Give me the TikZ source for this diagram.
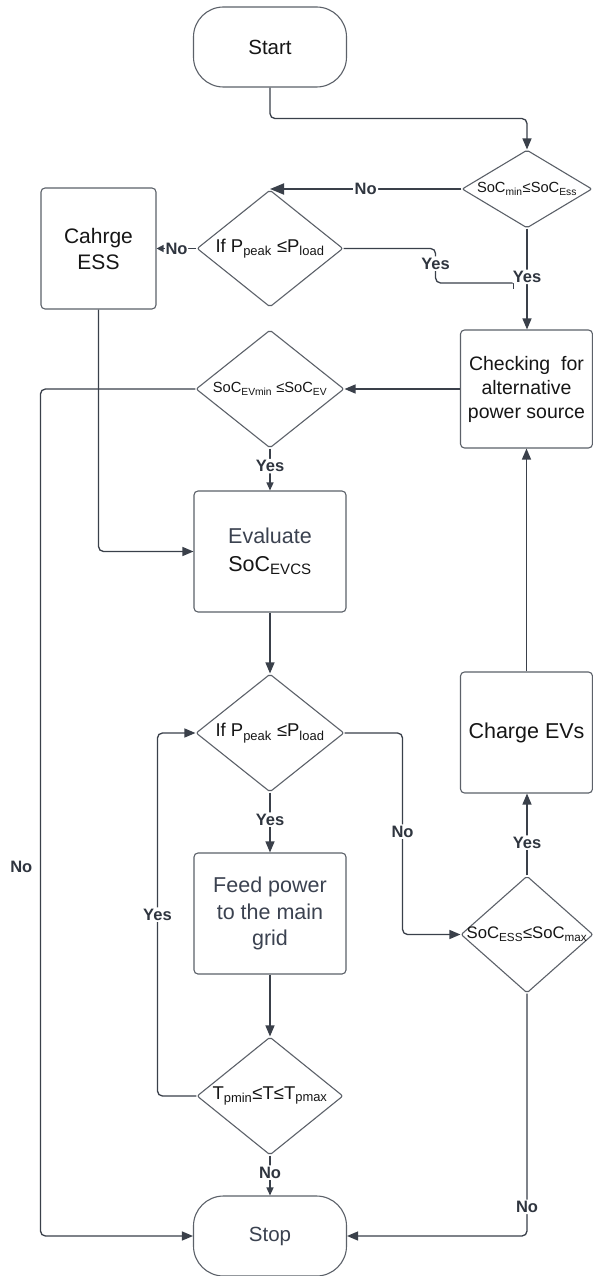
\documentclass[tikz,border=0pt]{standalone}
\usepackage{fontspec}
\setmainfont{Liberation Sans}
\usetikzlibrary{shapes.geometric,arrows.meta}
\definecolor{linec}{HTML}{3A404A}
\definecolor{boxc}{HTML}{5C6169}
\definecolor{txtg}{HTML}{3B4250}
\definecolor{labc}{HTML}{2F353F}
\definecolor{txtk}{HTML}{161616}
\newcommand{\fsz}[2]{\fontsize{#1}{#2}\selectfont}
\begin{document}
\begin{tikzpicture}[x=1pt,y=-1pt,
  box/.style={draw=boxc, line width=1.1pt, rounded corners=4pt, align=center, inner sep=0pt, text=txtk},
  term/.style={box, rounded corners=30pt, minimum width=153pt, minimum height=80pt, font=\fsz{20.5}{23}},
  dec/.style={diamond, draw=boxc, line width=1.1pt, rounded corners=2pt, inner sep=0pt, text=txtk},
  conn/.style={draw=linec, line width=1.3pt, rounded corners=5pt, -{Triangle[length=11pt,width=9pt]}},
  small/.style={-{Triangle[length=8pt,width=7pt]}},
  lbl/.style={fill=white, font=\bfseries\fsz{16.5}{19}, text=labc, inner sep=1.5pt},
]
\useasboundingbox (0,0) rectangle (593,1276);
\fill[white] (0,0) rectangle (593,1276);

% nodes
\node[term] (start) at (270,47) {Start};
\node[dec, minimum width=130pt, minimum height=78pt] (d1) at (527,189)
  {\makebox[0pt]{\fsz{14.7}{17}SoC\textsubscript{min}≤SoC\textsubscript{Ess}}};
\node[dec, minimum width=146pt, minimum height=117pt] (d2) at (270,248.5)
  {\makebox[0pt]{\fsz{18.5}{21}If P\textsubscript{peak} ≤P\textsubscript{load}}};
\node[box, minimum width=115pt, minimum height=121pt, font=\fsz{21}{26}] (ess) at (98.5,248.5) {Cahrge\\ESS};
\node[box, minimum width=132pt, minimum height=118pt, font=\fsz{19.5}{24}] (chk) at (526.5,389) {Checking\ \ for\\alternative\\power source};
\node[dec, minimum width=148pt, minimum height=118pt] (d3) at (270,389)
  {\makebox[0pt]{\fsz{14.7}{17}SoC\textsubscript{EVmin} ≤SoC\textsubscript{EV}}};
\node[box, minimum width=152pt, minimum height=121pt, font=\fsz{21.5}{28}] (eval) at (270,551.5)
  {\textcolor{txtg}{Evaluate}\\SoC\textsubscript{EVCS}};
\node[dec, minimum width=148pt, minimum height=118pt] (d4) at (270,733)
  {\makebox[0pt]{\fsz{18.5}{21}If P\textsubscript{peak} ≤P\textsubscript{load}}};
\node[box, minimum width=132pt, minimum height=121pt, font=\fsz{21.5}{26}] (chev) at (526.5,732.5) {Charge EVs};
\node[box, minimum width=152pt, minimum height=121pt, font=\fsz{21.5}{26.5}, text=txtg] (feed) at (270,913.5)
  {Feed power\\to the main\\grid};
\node[dec, minimum width=132pt, minimum height=117pt] (d5) at (527,934.5)
  {\makebox[0pt]{\fsz{16.7}{19}SoC\textsubscript{ESS}≤SoC\textsubscript{max}}};
\node[dec, minimum width=146pt, minimum height=118pt] (d6) at (270,1096)
  {\makebox[0pt]{\fsz{18.5}{21}T\textsubscript{pmin}≤T≤T\textsubscript{pmax}}};
\node[term, text=txtg] (stop) at (270,1236) {Stop};

\coordinate (tb) at (514,283);

% connectors
\draw[conn] (start.south) -- ++(0,31) -| (d1.north);
\draw[conn, line width=1.8pt, -{Triangle[length=14pt,width=11pt]}] (d1.west) -- (d1.west -| d2.north)
  node[lbl, pos=0.5] {No};
\draw[conn, -{Triangle[length=7pt,width=7pt]}] (d2.west) -- (ess.east) node[lbl, pos=0.5, inner sep=0.5pt] {No};
\draw[conn, -{Bar[width=11pt]}] (d2.east) -- ++(92,0) |- node[lbl, pos=0.22] {Yes} (tb);
\draw[conn] (d1.south) -- (d1.south |- chk.north) node[lbl, pos=0.48] {Yes};
\draw[conn] (chk.west) -- (chk.west -| d3.east);
\draw[conn, small] (d3.south) -- (eval.north) node[lbl, pos=0.42] {Yes};
\draw[conn] (d3.west) -- ++(-155,0) |- node[lbl, fill=none, pos=0.282, left=6pt] {No} (stop.west);
\draw[conn] (ess.south) |- (eval.west);
\draw[conn] (eval.south) -- (d4.north);
\draw[conn] (d4.south) -- (feed.north) node[lbl, pos=0.45] {Yes};
\draw[conn] (feed.south) -- (d6.north);
\draw[conn, small] (d6.south) -- (stop.north) node[lbl, pos=0.43] {No};
\draw[conn] (d6.west) -- ++(-39,0) |- node[lbl, pos=0.25] {Yes} (d4.west);
\draw[conn] (d4.east) -- ++(58,0) |- node[lbl, pos=0.245] {No} (d5.west);
\draw[conn] (d5.north) -- (d5.north |- chev.south) node[lbl, pos=0.4] {Yes};
\draw[conn] (chev.north) -- (chev.north |- chk.south);
\draw[conn] (d5.south) |- node[lbl, pos=0.44] {No} (stop.east);
\end{tikzpicture}
\end{document}
